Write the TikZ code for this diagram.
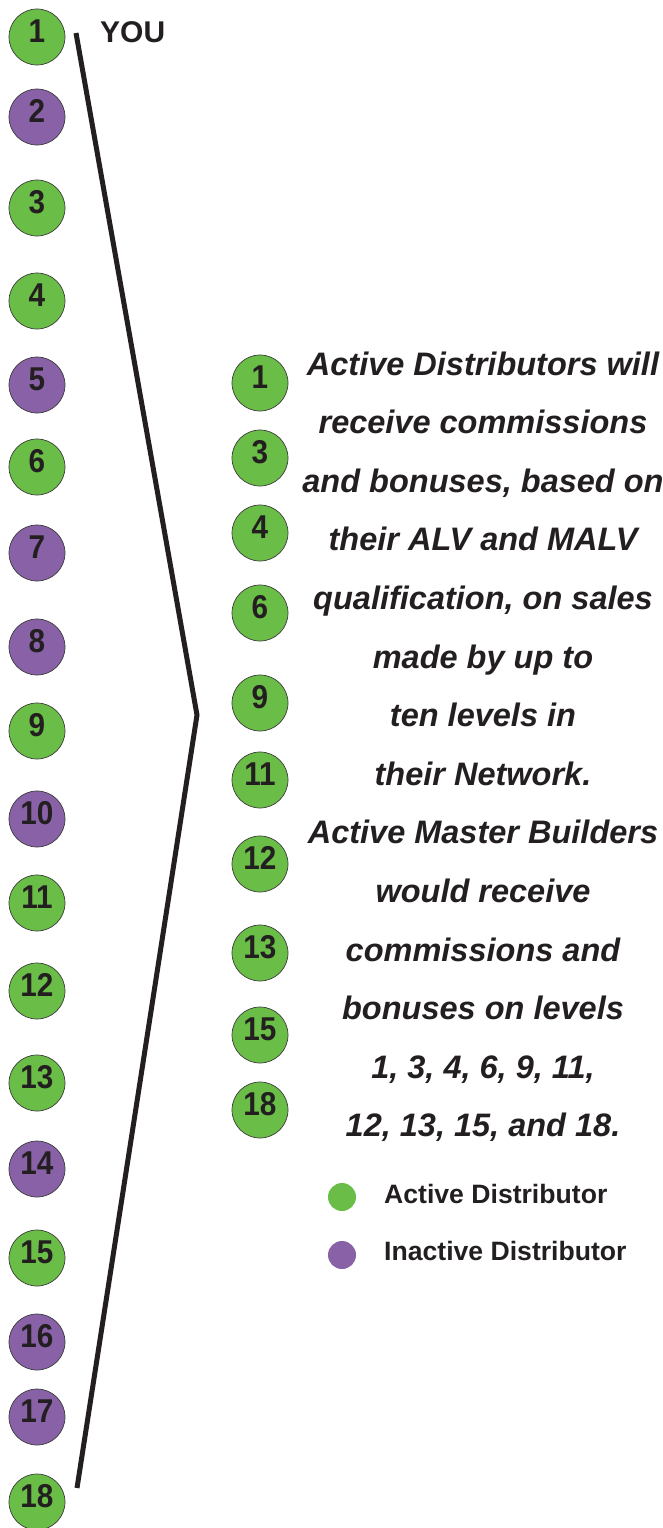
\documentclass[tikz,border=0pt]{standalone}
\usepackage{fontspec}
\setmainfont{Liberation Sans}
\newfontfamily\levelfont[FakeStretch=0.9]{Liberation Sans}
\usepackage{tikz}

\definecolor{activegreen}{RGB}{106,189,70}
\definecolor{inactivepurple}{RGB}{136,97,167}
\definecolor{rimgray}{RGB}{60,60,60}
\definecolor{inkblack}{RGB}{35,31,32}

\tikzset{
	level/.style={circle, draw=rimgray, line width=0.7pt, minimum size=56pt, inner sep=0pt,
		text depth=12pt, text=inkblack, font=\levelfont\fontsize{33}{33}\selectfont\bfseries},
	active/.style={level, fill=activegreen},
	inactive/.style={level, fill=inactivepurple},
	blurb/.style={anchor=base, text=inkblack, font=\fontsize{32.5}{32.5}\selectfont\bfseries\itshape},
	keydot/.style={circle, minimum size=28pt, inner sep=0pt},
	keytext/.style={anchor=base west, inner sep=0pt, text=inkblack, font=\fontsize{26.6}{26.6}\selectfont\bfseries},
	bracket/.style={draw=inkblack, line width=5pt, line join=miter},
}

\begin{document}
\begin{tikzpicture}[x=1pt, y=-1pt]
				\useasboundingbox (0, 0) rectangle (663, 1528);
				
				% your own line, levels 1 to 18
				\foreach \y/\n/\s in {37/1/active, 117/2/inactive, 208/3/active, 301/4/active,
					385/5/inactive, 467/6/active, 553/7/inactive, 647/8/inactive, 731/9/active,
					819/10/inactive, 903/11/active, 991/12/active, 1083/13/active, 1169/14/inactive,
					1258/15/active, 1342/16/inactive, 1417/17/inactive, 1502/18/active}
					\node[\s] (left\n) at (37, \y) {\n};
				
				\node[anchor=base west, inner sep=0pt, text=inkblack, font=\fontsize{30}{30}\selectfont\bfseries] (you) at (100, 43) {YOU};
				
				\coordinate (brtop) at (76, 33);
				\coordinate (brtip) at (197, 715);
				\coordinate (brbot) at (77, 1488);
				\draw[bracket] (brtop) -- (brtip) -- (brbot);
				
				% the levels that pay out
				\foreach \y/\n in {383/1, 458/3, 533/4, 613/6, 703/9, 780/11, 864/12, 953/13, 1035/15, 1110/18}
					\node[active] (right\n) at (260, \y) {\n};
				
				\foreach \t [count=\i] in {Active Distributors will, receive commissions,
					{and bonuses, based on}, their ALV and MALV, {qualification, on sales},
					made by up to, ten levels in, their Network., Active Master Builders,
					would receive, commissions and, bonuses on levels,
					{1, 3, 4, 6, 9, 11,}, {12, 13, 15, and 18.}}
					\node[blurb] (line\i) at (483, {375 + 58.6*(\i-1)}) {\t};
				
				% legend
				\node[keydot, fill=activegreen] (keyactive) at (342, 1197) {};
				\node[keytext] (keyactivetext) at (384, 1203) {Active Distributor};
				\node[keydot, fill=inactivepurple] (keyinactive) at (342, 1255) {};
				\node[keytext] (keyinactivetext) at (384, 1260) {Inactive Distributor};
			\end{tikzpicture}
\end{document}
